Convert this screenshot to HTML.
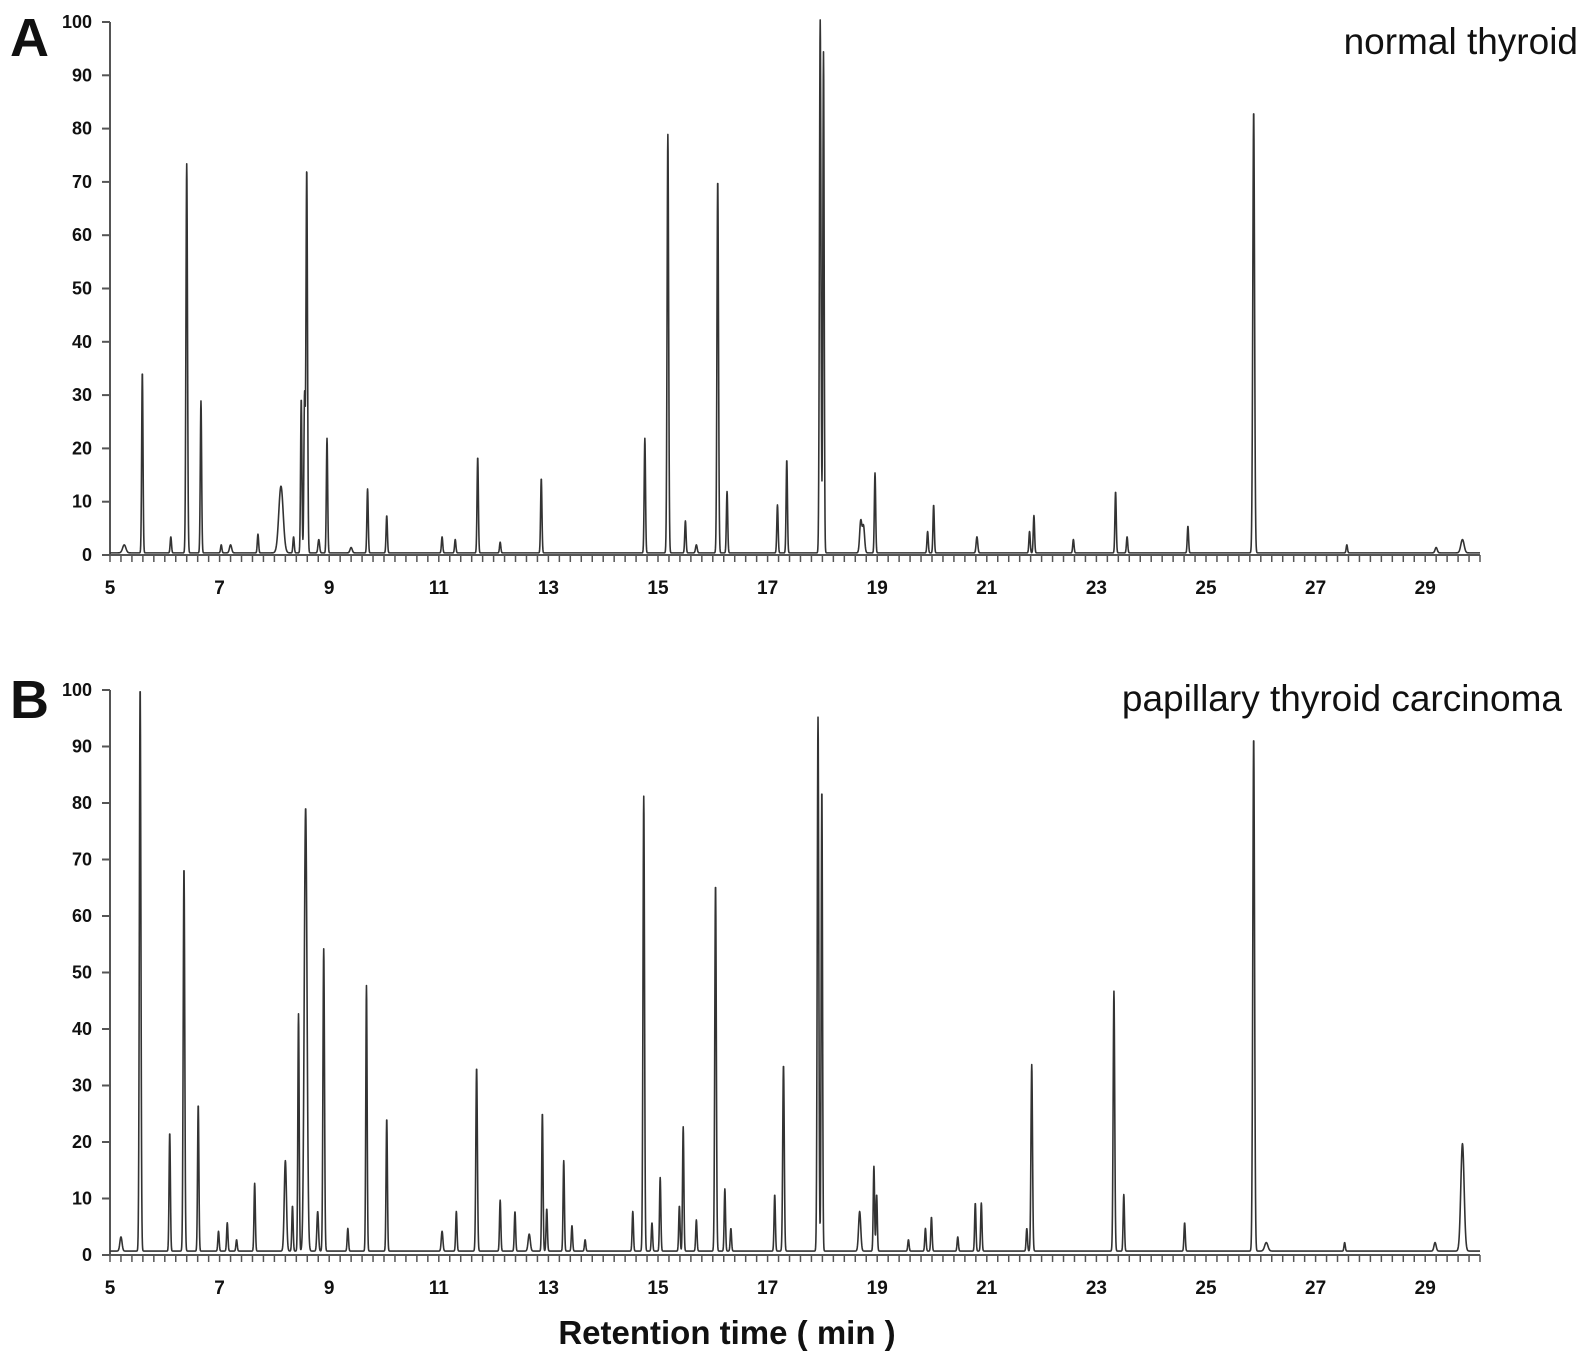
<!DOCTYPE html>
<html><head><meta charset="utf-8">
<style>
html,body{margin:0;padding:0;background:#fff;}
svg{display:block;}
text{font-family:"Liberation Sans",sans-serif;}
</style></head>
<body>
<svg id="chart" width="1589" height="1358" viewBox="0 0 1589 1358" xmlns="http://www.w3.org/2000/svg">
<text x="10" y="56" font-size="54" font-weight="bold" fill="#111">A</text>
<text x="1578" y="54" font-size="37" text-anchor="end" fill="#111">normal thyroid</text>
<text x="10" y="718" font-size="54" font-weight="bold" fill="#111">B</text>
<text x="1562" y="711" font-size="37" text-anchor="end" fill="#111">papillary thyroid carcinoma</text>
<text x="727" y="1344" font-size="33" font-weight="bold" text-anchor="middle" fill="#111">Retention time ( min )</text>
</svg>
<script>
// Panel A (normal thyroid): retention times, intensities, peak widths
const timesA = [5.26,5.59,6.11,6.40,6.66,7.03,7.20,7.70,8.12,8.35,8.49,8.55,8.59,8.81,8.96,9.40,9.70,10.05,11.06,11.30,11.71,12.12,12.87,14.76,15.18,15.50,15.70,16.09,16.26,17.18,17.35,17.96,18.02,18.70,18.75,18.96,19.92,20.03,20.82,21.78,21.86,22.58,23.35,23.56,24.67,25.87,27.57,29.20,29.68];
const valuesA = [1.5,34,3,73,28.5,1.5,1.5,3.5,12.5,3,29,29,72,2.5,21.5,1,12,7,3,2.5,18,2,14,21.5,78.5,6,1.5,70,11.5,9,17.5,100,94,6,5,15,4,9,3,4,7,2.5,11.5,3,5,83,1.5,1,2.5];
const widthsA = [0.03,0.012,0.012,0.014,0.012,0.012,0.02,0.012,0.04,0.012,0.012,0.012,0.014,0.015,0.012,0.02,0.012,0.012,0.012,0.012,0.012,0.012,0.012,0.012,0.014,0.012,0.015,0.014,0.012,0.012,0.012,0.014,0.012,0.02,0.02,0.012,0.012,0.012,0.015,0.012,0.012,0.012,0.012,0.012,0.012,0.016,0.012,0.02,0.03];
// Panel B (papillary thyroid carcinoma)
const timesB = [5.20,5.55,6.09,6.35,6.61,6.98,7.14,7.31,7.64,8.20,8.33,8.44,8.57,8.79,8.90,9.34,9.68,10.05,11.06,11.32,11.69,12.12,12.39,12.65,12.89,12.97,13.28,13.43,13.67,14.54,14.74,14.89,15.04,15.39,15.46,15.70,16.05,16.22,16.33,17.13,17.29,17.92,17.99,18.68,18.94,18.99,19.57,19.88,19.99,20.47,20.79,20.90,21.73,21.82,23.32,23.50,24.61,25.87,26.10,27.53,29.18,29.68];
const valuesB = [2.5,100,21,68,26,3.5,5,2,12,16,8,42,78.5,7,53.5,4,47,23.5,3.5,7,32.5,9,7,3,24.5,7.5,16,4.5,2,7,80.5,5,13,8,22,5.5,65,11,4,10,33,94.5,82,7,15,10,2,4,6,2.5,8.5,8.5,4,33,46,10,5,91,1.5,1.5,1.5,19];
const widthsB = [0.02,0.014,0.012,0.014,0.012,0.012,0.012,0.012,0.012,0.02,0.012,0.012,0.025,0.015,0.014,0.012,0.012,0.012,0.015,0.012,0.014,0.012,0.012,0.02,0.012,0.012,0.012,0.012,0.012,0.012,0.014,0.012,0.012,0.012,0.012,0.012,0.014,0.012,0.012,0.012,0.014,0.014,0.012,0.02,0.012,0.012,0.012,0.012,0.012,0.012,0.012,0.012,0.012,0.014,0.014,0.012,0.012,0.016,0.03,0.012,0.02,0.03];
const yTicks = [0,10,20,30,40,50,60,70,80,90,100];
const xTickLabels = [5,7,9,11,13,15,17,19,21,23,25,27,29];
const baselineA = 0.4, baselineB = 0.7;

const NS = "http://www.w3.org/2000/svg";
const svg = document.getElementById('chart');
function mk(tag, attrs){const e=document.createElementNS(NS,tag);for(const k in attrs)e.setAttribute(k,attrs[k]);return e;}

function panel(key, top, zeroY, times, values, widths, base){
  const x0=110, x1=1480, tMin=5, tMax=30;
  const xs = t => x0 + (t-tMin)/(tMax-tMin)*(x1-x0);
  const ys = v => zeroY - v/100*(zeroY-top);
  const g = mk('g',{});
  
  
  svg.appendChild(g);
  const ya = mk('line',{x1:x0,y1:top,x2:x0,y2:zeroY,stroke:'#555','stroke-width':2});
  
  
  g.appendChild(ya);
  yTicks.forEach(v=>{
    const y=ys(v);
    g.appendChild(mk('line',{x1:x0-8,y1:y,x2:x0,y2:y,stroke:'#555','stroke-width':2}));
    const tx=mk('text',{x:x0-18,y:y+6,'font-size':18,'font-weight':'bold','text-anchor':'end',fill:'#111'});
    tx.textContent=v;
    
    
    g.appendChild(tx);
  });
  const xa = mk('line',{x1:x0,y1:zeroY,x2:x1,y2:zeroY,stroke:'#555','stroke-width':2});
  
  
  g.appendChild(xa);
  for(let i=0;i<=125;i++){
    const t=tMin+i*0.2, x=xs(t);
    g.appendChild(mk('line',{x1:x,y1:zeroY,x2:x,y2:zeroY+7,stroke:'#555','stroke-width':1.5}));
  }
  xTickLabels.forEach(t=>{
    const tx=mk('text',{x:xs(t),y:zeroY+39,'font-size':19,'font-weight':'bold','text-anchor':'middle',fill:'#111'});
    tx.textContent=t;
    
    
    g.appendChild(tx);
  });
  let d='';
  for(let t=tMin;t<=tMax+1e-9;t+=0.004){
    let v=base;
    for(let i=0;i<times.length;i++){const z=(t-times[i])/widths[i]; if(Math.abs(z)<8) v+=values[i]*Math.exp(-0.5*z*z);}
    d+=(d?'L':'M')+xs(t).toFixed(2)+' '+ys(v).toFixed(2);
  }
  const p=mk('path',{d:d,fill:'none',stroke:'#333','stroke-width':1.6,'stroke-linejoin':'round'});
  
  
  g.appendChild(p);
}
panel('a', 22, 555, timesA, valuesA, widthsA, baselineA);
panel('b', 690, 1255, timesB, valuesB, widthsB, baselineB);
</script>
</body></html>
